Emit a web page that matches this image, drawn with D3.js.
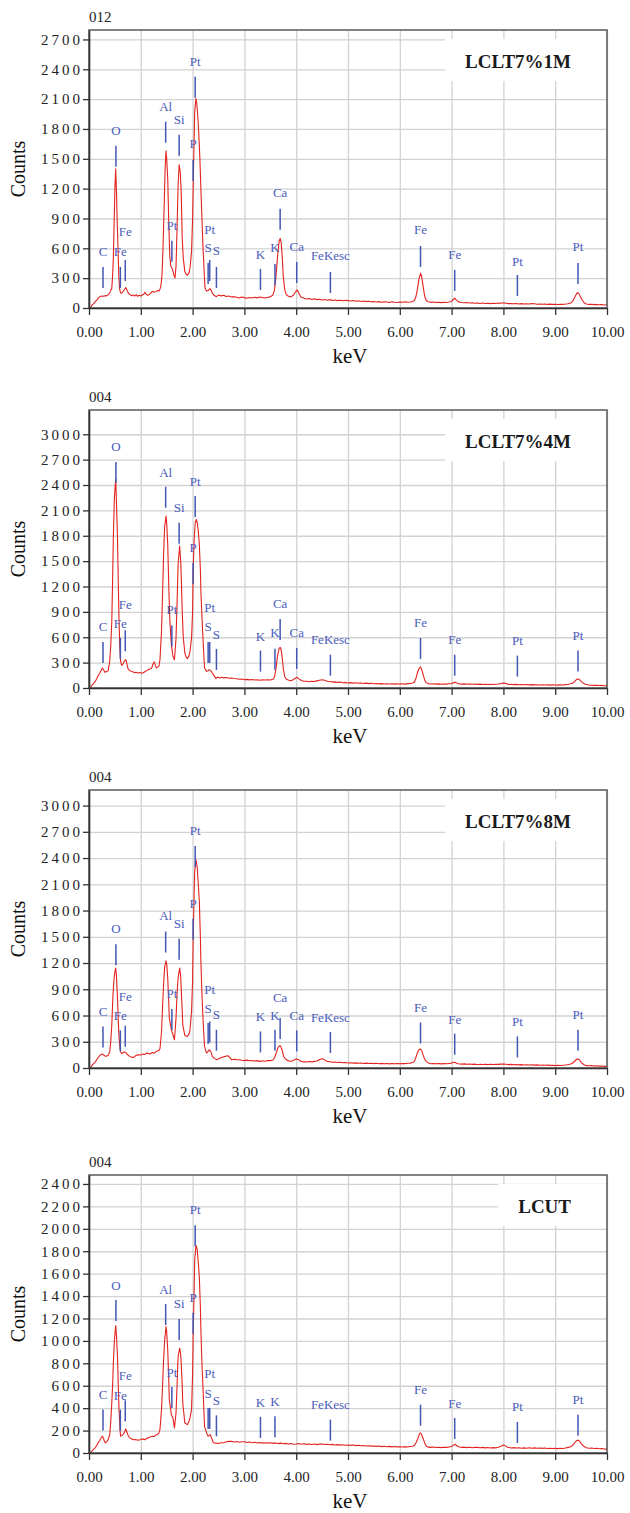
<!DOCTYPE html>
<html>
<head>
<meta charset="utf-8">
<script src="https://cdn.jsdelivr.net/npm/d3@7/dist/d3.min.js"></script>
<style>
  body { margin: 0; background: #fff; }
  svg text { font-family: "Liberation Serif", "Times New Roman", serif; }
</style>
</head>
<body>
<div id="vis"></div>
<script>
const FRAME_WIDTH = 630;
const FRAME_HEIGHT = 1513;
const MARGINS = {left: 89, right: 23};
const PLOT_TOPS = [30, 410, 790, 1175];
const PLOT_HEIGHT = 278;
const VIS_WIDTH = FRAME_WIDTH - MARGINS.left - MARGINS.right;

// panel info
const SAMPLE_IDS = ['012', '004', '004', '004'];
const SAMPLE_NAMES = ['LCLT7%1M', 'LCLT7%4M', 'LCLT7%8M', 'LCUT'];
const KEV_TICKS = [0, 1, 2, 3, 4, 5, 6, 7, 8, 9, 10];
const COUNT_MAX = [2795, 3287, 3178, 2480];
const COUNT_TICKS = [
  [0, 300, 600, 900, 1200, 1500, 1800, 2100, 2400, 2700],
  [0, 300, 600, 900, 1200, 1500, 1800, 2100, 2400, 2700, 3000],
  [0, 300, 600, 900, 1200, 1500, 1800, 2100, 2400, 2700, 3000],
  [0, 200, 400, 600, 800, 1000, 1200, 1400, 1600, 1800, 2000, 2200, 2400]
];

// spectra, [keV, counts]
const SPECTRUM_1M = [[0,0],[0.03,5],[0.06,30],[0.09,45],[0.12,63],[0.15,80],[0.18,100],[0.21,114],[0.24,120],[0.27,118],[0.31,124],[0.34,122],[0.37,134],[0.40,150],[0.42,175],[0.44,198],[0.455,320],[0.47,503],[0.485,850],[0.50,1200],[0.515,1400],[0.53,1180],[0.545,850],[0.56,600],[0.575,330],[0.59,198],[0.61,150],[0.63,148],[0.655,165],[0.68,181],[0.70,198],[0.71,205],[0.73,185],[0.76,148],[0.79,135],[0.82,124],[0.85,130],[0.88,120],[0.91,134],[0.94,118],[0.97,128],[1.00,120],[1.03,130],[1.06,140],[1.08,158],[1.10,140],[1.13,128],[1.16,134],[1.19,150],[1.22,168],[1.25,160],[1.29,164],[1.32,175],[1.35,170],[1.37,188],[1.39,230],[1.41,340],[1.43,620],[1.45,1000],[1.47,1400],[1.487,1580],[1.50,1500],[1.52,1300],[1.54,850],[1.56,520],[1.58,420],[1.60,405],[1.62,370],[1.64,330],[1.66,300],[1.68,420],[1.70,800],[1.72,1240],[1.74,1440],[1.76,1380],[1.78,1170],[1.80,700],[1.82,500],[1.85,366],[1.88,335],[1.90,330],[1.93,350],[1.95,403],[1.98,570],[2.00,900],[2.02,1450],[2.04,1977],[2.065,2105],[2.08,2060],[2.10,1930],[2.12,1750],[2.14,1507],[2.16,1200],[2.18,906],[2.20,620],[2.22,400],[2.24,198],[2.27,170],[2.30,175],[2.335,195],[2.36,180],[2.38,148],[2.42,125],[2.46,114],[2.50,130],[2.55,122],[2.60,128],[2.65,115],[2.70,120],[2.75,110],[2.80,114],[2.85,108],[2.90,100],[2.95,110],[3.00,104],[3.05,98],[3.10,106],[3.15,100],[3.20,108],[3.25,102],[3.30,110],[3.35,104],[3.40,100],[3.45,108],[3.50,112],[3.55,130],[3.58,180],[3.61,320],[3.64,520],[3.67,670],[3.69,700],[3.71,660],[3.73,520],[3.75,320],[3.78,180],[3.81,135],[3.85,118],[3.90,112],[3.95,130],[3.99,165],[4.02,181],[4.05,150],[4.09,110],[4.15,98],[4.20,90],[4.25,96],[4.30,86],[4.35,92],[4.40,84],[4.45,88],[4.50,81],[4.55,86],[4.60,78],[4.65,84],[4.70,76],[4.75,80],[4.80,74],[4.85,78],[4.90,72],[4.95,78],[5.00,74],[5.05,70],[5.10,76],[5.15,68],[5.20,72],[5.25,66],[5.30,70],[5.35,64],[5.40,68],[5.45,62],[5.50,66],[5.55,60],[5.60,64],[5.65,58],[5.70,62],[5.75,60],[5.80,56],[5.85,62],[5.90,58],[5.95,56],[6.00,60],[6.05,57],[6.10,62],[6.15,58],[6.20,60],[6.25,66],[6.28,75],[6.31,110],[6.34,190],[6.37,290],[6.40,349],[6.42,320],[6.45,220],[6.48,120],[6.51,75],[6.55,62],[6.60,57],[6.65,60],[6.70,55],[6.75,58],[6.80,54],[6.85,58],[6.90,56],[6.95,60],[7.00,66],[7.03,85],[7.06,98],[7.09,82],[7.13,64],[7.18,56],[7.25,52],[7.30,55],[7.35,50],[7.40,52],[7.45,48],[7.50,50],[7.55,46],[7.60,50],[7.65,46],[7.70,48],[7.75,44],[7.80,48],[7.85,46],[7.90,50],[7.95,47],[8.00,52],[8.05,48],[8.10,44],[8.15,46],[8.20,42],[8.25,45],[8.30,41],[8.35,44],[8.40,40],[8.45,43],[8.50,40],[8.55,44],[8.60,42],[8.65,38],[8.70,41],[8.75,37],[8.80,40],[8.85,36],[8.90,39],[8.95,36],[9.00,38],[9.05,35],[9.10,38],[9.15,36],[9.20,40],[9.25,42],[9.30,50],[9.34,70],[9.38,110],[9.42,150],[9.45,152],[9.48,120],[9.52,80],[9.56,52],[9.60,40],[9.65,36],[9.70,38],[9.75,34],[9.80,36],[9.85,32],[9.90,35],[9.95,30],[10.0,32]];

const SPECTRUM_4M = [[0,0],[0.03,8],[0.06,35],[0.09,55],[0.12,78],[0.15,110],[0.18,150],[0.21,178],[0.24,215],[0.26,237],[0.28,215],[0.31,185],[0.34,195],[0.37,204],[0.40,316],[0.42,500],[0.44,789],[0.455,1250],[0.47,1776],[0.49,2250],[0.515,2470],[0.53,2200],[0.55,1776],[0.565,1250],[0.58,789],[0.595,480],[0.61,316],[0.63,270],[0.65,276],[0.68,316],[0.705,335],[0.72,320],[0.74,260],[0.76,217],[0.79,205],[0.82,197],[0.85,190],[0.88,182],[0.91,186],[0.95,178],[0.98,184],[1.01,176],[1.04,178],[1.07,190],[1.10,200],[1.14,217],[1.18,225],[1.21,237],[1.24,290],[1.26,308],[1.28,270],[1.30,237],[1.33,250],[1.35,257],[1.37,335],[1.40,671],[1.42,1100],[1.44,1578],[1.46,1900],[1.487,2032],[1.50,1950],[1.52,1697],[1.54,1200],[1.56,800],[1.59,513],[1.62,375],[1.65,335],[1.68,592],[1.70,1000],[1.72,1460],[1.75,1677],[1.77,1500],[1.78,1342],[1.80,900],[1.82,600],[1.85,414],[1.88,360],[1.90,347],[1.93,380],[1.95,434],[1.98,592],[2.00,900],[2.01,1381],[2.03,1750],[2.05,1950],[2.07,1993],[2.09,1954],[2.11,1850],[2.13,1697],[2.15,1400],[2.16,1144],[2.18,850],[2.20,592],[2.22,350],[2.23,237],[2.27,197],[2.30,205],[2.32,217],[2.35,205],[2.38,178],[2.42,140],[2.45,110],[2.48,130],[2.52,118],[2.56,126],[2.60,120],[2.65,124],[2.70,116],[2.75,118],[2.80,112],[2.85,110],[2.90,104],[2.95,106],[3.00,98],[3.05,102],[3.10,96],[3.15,100],[3.20,94],[3.25,98],[3.30,92],[3.35,96],[3.40,94],[3.45,98],[3.50,95],[3.55,104],[3.58,130],[3.61,230],[3.64,380],[3.67,465],[3.69,481],[3.71,450],[3.73,360],[3.75,230],[3.78,130],[3.82,100],[3.86,92],[3.90,86],[3.95,100],[3.99,118],[4.02,126],[4.06,105],[4.10,88],[4.15,80],[4.20,79],[4.25,74],[4.30,80],[4.35,76],[4.40,84],[4.45,92],[4.50,98],[4.55,92],[4.60,80],[4.65,76],[4.70,70],[4.75,72],[4.80,66],[4.85,70],[4.90,62],[4.95,66],[5.00,59],[5.05,64],[5.10,58],[5.15,62],[5.20,56],[5.25,60],[5.30,54],[5.35,58],[5.40,52],[5.45,56],[5.50,50],[5.55,54],[5.60,49],[5.65,52],[5.70,48],[5.75,51],[5.80,47],[5.85,50],[5.90,46],[5.95,49],[6.00,47],[6.05,50],[6.10,46],[6.15,52],[6.20,54],[6.25,60],[6.28,70],[6.31,110],[6.34,178],[6.37,230],[6.40,249],[6.42,225],[6.45,160],[6.48,95],[6.51,62],[6.55,52],[6.60,48],[6.65,50],[6.70,46],[6.75,49],[6.80,45],[6.85,48],[6.90,46],[6.95,50],[7.00,52],[7.04,64],[7.07,67],[7.10,58],[7.15,48],[7.20,46],[7.25,49],[7.30,45],[7.35,48],[7.40,44],[7.45,47],[7.50,43],[7.55,46],[7.60,42],[7.65,45],[7.70,41],[7.75,44],[7.80,42],[7.85,45],[7.90,48],[7.95,52],[8.00,59],[8.04,55],[8.08,46],[8.12,42],[8.16,44],[8.20,40],[8.25,43],[8.30,39],[8.35,42],[8.40,38],[8.45,41],[8.50,37],[8.55,40],[8.60,37],[8.65,39],[8.70,35],[8.75,38],[8.80,35],[8.85,37],[8.90,34],[8.95,37],[9.00,36],[9.05,34],[9.10,37],[9.15,35],[9.20,40],[9.25,44],[9.30,50],[9.35,62],[9.38,82],[9.42,106],[9.46,104],[9.50,79],[9.54,58],[9.58,45],[9.62,38],[9.66,34],[9.70,33],[9.75,31],[9.80,33],[9.85,29],[9.90,31],[9.95,27],[10.0,28]];

const SPECTRUM_8M = [[0,0],[0.03,6],[0.06,30],[0.09,50],[0.12,68],[0.15,95],[0.18,120],[0.21,144],[0.24,155],[0.26,160],[0.29,145],[0.32,133],[0.35,140],[0.37,144],[0.40,183],[0.42,300],[0.44,494],[0.46,800],[0.48,1000],[0.50,1100],[0.515,1142],[0.53,1050],[0.55,799],[0.565,550],[0.58,342],[0.60,220],[0.61,183],[0.63,165],[0.65,171],[0.68,183],[0.71,178],[0.73,160],[0.76,144],[0.80,130],[0.83,122],[0.86,122],[0.90,140],[0.95,152],[1.00,148],[1.04,160],[1.08,155],[1.11,170],[1.14,167],[1.18,160],[1.22,178],[1.26,170],[1.29,185],[1.32,194],[1.35,200],[1.37,220],[1.40,411],[1.42,700],[1.44,951],[1.46,1150],[1.487,1225],[1.50,1190],[1.52,1027],[1.54,750],[1.55,571],[1.59,437],[1.62,380],[1.65,323],[1.68,571],[1.70,850],[1.72,1027],[1.75,1142],[1.77,1050],[1.78,913],[1.80,650],[1.81,494],[1.85,372],[1.90,361],[1.93,390],[1.95,437],[1.98,646],[2.00,1000],[2.01,1446],[2.03,2000],[2.04,2245],[2.065,2379],[2.08,2330],[2.09,2284],[2.11,2100],[2.13,1903],[2.15,1500],[2.16,1218],[2.18,850],[2.20,571],[2.22,350],[2.23,247],[2.27,171],[2.30,190],[2.32,209],[2.35,190],[2.38,133],[2.42,110],[2.47,95],[2.52,110],[2.56,120],[2.60,128],[2.63,133],[2.66,138],[2.68,141],[2.71,125],[2.75,95],[2.80,100],[2.85,96],[2.90,95],[2.95,88],[3.00,84],[3.05,90],[3.10,82],[3.15,86],[3.20,80],[3.25,84],[3.30,76],[3.35,82],[3.40,78],[3.45,86],[3.50,84],[3.55,92],[3.58,114],[3.62,180],[3.65,235],[3.68,255],[3.70,250],[3.73,200],[3.76,130],[3.78,114],[3.82,90],[3.86,80],[3.90,76],[3.95,88],[4.00,103],[4.04,98],[4.08,80],[4.12,72],[4.16,70],[4.20,68],[4.25,74],[4.30,70],[4.35,76],[4.40,80],[4.45,96],[4.50,106],[4.53,100],[4.57,84],[4.60,76],[4.65,72],[4.70,66],[4.75,68],[4.80,62],[4.85,66],[4.90,60],[4.95,63],[5.00,57],[5.05,60],[5.10,56],[5.15,59],[5.20,54],[5.25,57],[5.30,52],[5.35,56],[5.40,51],[5.45,55],[5.50,50],[5.55,54],[5.60,49],[5.65,53],[5.70,48],[5.75,52],[5.80,47],[5.85,51],[5.90,48],[5.95,50],[6.00,49],[6.05,52],[6.10,50],[6.15,54],[6.20,56],[6.25,62],[6.28,76],[6.31,120],[6.34,175],[6.37,210],[6.40,217],[6.42,205],[6.45,150],[6.48,100],[6.51,76],[6.55,58],[6.60,49],[6.65,52],[6.70,48],[6.75,51],[6.80,47],[6.85,50],[6.90,48],[6.95,52],[7.00,56],[7.04,65],[7.07,62],[7.10,52],[7.15,46],[7.20,44],[7.25,47],[7.30,42],[7.35,45],[7.40,41],[7.45,44],[7.50,38],[7.55,42],[7.60,40],[7.65,43],[7.70,39],[7.75,42],[7.80,40],[7.85,43],[7.90,41],[7.95,44],[8.00,46],[8.05,43],[8.10,39],[8.15,41],[8.20,37],[8.25,40],[8.30,36],[8.35,39],[8.40,35],[8.45,38],[8.50,34],[8.55,37],[8.60,33],[8.65,36],[8.70,32],[8.75,34],[8.80,31],[8.85,33],[8.90,30],[8.95,32],[9.00,27],[9.05,30],[9.10,28],[9.15,32],[9.20,35],[9.25,40],[9.30,46],[9.34,57],[9.38,80],[9.42,103],[9.46,100],[9.50,65],[9.55,40],[9.60,27],[9.65,25],[9.70,27],[9.75,23],[9.80,25],[9.85,21],[9.90,23],[9.95,19],[10.0,19]];

const SPECTRUM_UT = [[0,0],[0.03,5],[0.06,20],[0.09,35],[0.12,46],[0.15,70],[0.18,95],[0.21,114],[0.24,140],[0.26,150],[0.28,130],[0.30,100],[0.32,91],[0.35,105],[0.37,120],[0.40,164],[0.42,280],[0.44,446],[0.46,650],[0.47,802],[0.49,1000],[0.515,1136],[0.53,1050],[0.55,860],[0.565,600],[0.58,387],[0.60,200],[0.61,150],[0.63,155],[0.65,164],[0.68,179],[0.71,215],[0.73,190],[0.76,150],[0.79,135],[0.82,126],[0.86,118],[0.90,120],[0.95,114],[1.00,120],[1.04,126],[1.08,118],[1.11,130],[1.14,135],[1.18,142],[1.22,150],[1.26,148],[1.29,160],[1.32,164],[1.35,180],[1.37,209],[1.40,387],[1.42,600],[1.44,831],[1.46,1000],[1.487,1127],[1.50,1080],[1.52,920],[1.54,650],[1.55,476],[1.59,342],[1.62,313],[1.65,224],[1.68,357],[1.70,600],[1.72,860],[1.75,935],[1.77,880],[1.78,802],[1.80,600],[1.81,446],[1.85,268],[1.90,253],[1.93,280],[1.95,313],[1.98,387],[2.00,700],[2.01,1038],[2.03,1450],[2.04,1720],[2.065,1853],[2.08,1830],[2.09,1809],[2.11,1700],[2.13,1572],[2.15,1300],[2.16,1098],[2.18,800],[2.20,594],[2.22,350],[2.23,238],[2.27,179],[2.30,150],[2.34,164],[2.37,130],[2.40,91],[2.45,88],[2.50,85],[2.55,92],[2.60,91],[2.65,100],[2.70,104],[2.75,105],[2.80,98],[2.85,102],[2.90,96],[2.95,100],[3.00,101],[3.05,94],[3.10,98],[3.15,92],[3.20,96],[3.25,90],[3.30,94],[3.35,88],[3.40,92],[3.45,88],[3.50,92],[3.55,86],[3.60,90],[3.65,84],[3.70,88],[3.75,82],[3.80,86],[3.85,80],[3.90,84],[3.95,78],[4.00,80],[4.05,84],[4.10,78],[4.15,82],[4.20,77],[4.25,81],[4.30,76],[4.35,80],[4.40,75],[4.45,79],[4.50,80],[4.55,76],[4.60,78],[4.65,74],[4.70,77],[4.75,72],[4.80,75],[4.85,70],[4.90,74],[4.95,69],[5.00,71],[5.05,68],[5.10,71],[5.15,66],[5.20,69],[5.25,64],[5.30,67],[5.35,62],[5.40,65],[5.45,61],[5.50,62],[5.55,59],[5.60,62],[5.65,57],[5.70,60],[5.75,56],[5.80,59],[5.85,55],[5.90,58],[5.95,55],[6.00,56],[6.05,54],[6.10,57],[6.15,54],[6.20,58],[6.25,60],[6.28,66],[6.31,90],[6.35,130],[6.38,170],[6.40,179],[6.42,165],[6.45,130],[6.48,90],[6.51,62],[6.55,52],[6.60,50],[6.65,53],[6.70,49],[6.75,52],[6.80,48],[6.85,51],[6.90,50],[6.95,54],[7.00,58],[7.04,72],[7.07,77],[7.10,65],[7.15,54],[7.20,50],[7.25,52],[7.30,48],[7.35,51],[7.40,47],[7.45,50],[7.50,50],[7.55,47],[7.60,50],[7.65,46],[7.70,49],[7.75,45],[7.80,48],[7.85,46],[7.90,52],[7.95,60],[8.00,71],[8.03,66],[8.08,52],[8.12,48],[8.16,45],[8.20,48],[8.25,44],[8.30,47],[8.35,43],[8.40,46],[8.45,42],[8.50,47],[8.55,43],[8.60,46],[8.65,42],[8.70,45],[8.75,41],[8.80,44],[8.85,40],[8.90,43],[8.95,40],[9.00,41],[9.05,39],[9.10,42],[9.15,40],[9.20,45],[9.25,50],[9.30,56],[9.35,75],[9.40,105],[9.43,115],[9.46,112],[9.50,86],[9.55,60],[9.60,47],[9.65,42],[9.70,44],[9.75,40],[9.80,42],[9.85,38],[9.90,40],[9.95,35],[10.0,35]];

// element markers: [label, keV, line top (counts), label centre (counts)]
const MARKERS_1M = [['C',0.27,413,564],['Fe',0.605,413,564],['Fe',0.70,483,765],['O',0.52,1631,1782],['Al',1.48,1873,2024],['Si',1.74,1742,1893],['P',2.01,1490,1651],['Pt',2.05,2326,2477],['Pt',1.60,675,826],['Pt',2.33,483,785],['S',2.30,453,604],['S',2.46,413,574],['K',3.31,393,534],['K',3.59,443,604],['Ca',3.69,997,1158],['Ca',4.01,463,614],['FeKesc',4.66,362,524],['Fe',6.40,624,785],['Fe',7.06,383,534],['Pt',8.27,332,473],['Pt',9.44,453,614]];
const MARKERS_4M = [['C',0.27,545,730],['Fe',0.605,592,761],['Fe',0.70,682,986],['O',0.52,2671,2860],['Al',1.48,2380,2553],['Si',1.74,1953,2131],['P',2.01,1480,1658],['Pt',2.05,2269,2446],['Pt',1.60,738,927],['Pt',2.33,545,947],['S',2.30,545,722],['S',2.46,462,631],['K',3.31,442,611],['K',3.59,465,651],['Ca',3.69,817,998],['Ca',4.01,474,651],['FeKesc',4.66,394,572],['Fe',6.40,592,777],['Fe',7.06,394,572],['Pt',8.27,383,564],['Pt',9.44,442,623]];
const MARKERS_8M = [['C',0.27,475,646],['Fe',0.605,430,597],['Fe',0.70,483,818],['O',0.52,1416,1591],['Al',1.48,1560,1743],['Si',1.74,1477,1648],['P',2.01,1705,1884],['Pt',2.05,2539,2713],['Pt',1.60,674,856],['Pt',2.33,532,894],['S',2.30,514,685],['S',2.46,437,609],['K',3.31,418,589],['K',3.59,437,597],['Ca',3.69,571,811],['Ca',4.01,430,597],['FeKesc',4.66,411,578],['Fe',6.40,521,692],['Fe',7.06,392,552],['Pt',8.27,361,532],['Pt',9.44,437,609]];
const MARKERS_UT = [['C',0.27,387,520],['Fe',0.605,387,514],['Fe',0.70,470,689],['O',0.52,1365,1498],['Al',1.48,1329,1460],['Si',1.74,1196,1332],['P',2.01,1252,1389],['Pt',2.05,2031,2171],['Pt',1.60,588,718],['Pt',2.33,402,707],['S',2.30,402,535],['S',2.46,336,470],['K',3.31,322,452],['K',3.59,327,461],['FeKesc',4.66,298,431],['Fe',6.40,431,571],['Fe',7.06,313,446],['Pt',8.27,277,416],['Pt',9.44,342,482]];

const SPECTRA = [SPECTRUM_1M, SPECTRUM_4M, SPECTRUM_8M, SPECTRUM_UT];
const MARKERS = [MARKERS_1M, MARKERS_4M, MARKERS_8M, MARKERS_UT];

const MARKER_LEN = 21;

const FRAME = d3.select('#vis')
  .append('svg')
    .attr('width', FRAME_WIDTH)
    .attr('height', FRAME_HEIGHT);

const X_SCALE = d3.scaleLinear()
  .domain([0, 10])
  .range([0, VIS_WIDTH]);

function drawPanel(i) {
  const top = PLOT_TOPS[i];
  const Y_SCALE = d3.scaleLinear()
    .domain([0, COUNT_MAX[i]])
    .range([PLOT_HEIGHT, 0]);

  const g = FRAME.append('g')
    .attr('transform', 'translate(' + MARGINS.left + ',' + top + ')');

  // gridlines
  g.append('g')
    .attr('transform', 'translate(0,' + PLOT_HEIGHT + ')')
    .call(d3.axisBottom(X_SCALE).tickValues(KEV_TICKS).tickSize(-PLOT_HEIGHT).tickFormat(''))
    .call(a => a.select('.domain').remove())
    .selectAll('line').attr('stroke', '#d2d2d2').attr('stroke-width', 1.3);
  g.append('g')
    .call(d3.axisLeft(Y_SCALE).tickValues(COUNT_TICKS[i]).tickSize(-VIS_WIDTH).tickFormat(''))
    .call(a => a.select('.domain').remove())
    .selectAll('line').attr('stroke', '#d2d2d2').attr('stroke-width', 1.3);

  // sample name box
  const box = g.append('rect').attr('fill', '#fff');
  const name = g.append('text')
    .attr('x', VIS_WIDTH - 36)
    .attr('y', 38)
    .attr('text-anchor', 'end')
    .attr('font-size', '19px')
    .attr('font-weight', 'bold')
    .attr('fill', '#1a1a1a')
    .text(SAMPLE_NAMES[i]);
  const bb = name.node().getBBox();
  box.attr('x', bb.x - 20)
    .attr('y', 9)
    .attr('width', VIS_WIDTH - 1 - (bb.x - 20))
    .attr('height', 42);

  // spectrum
  const line = d3.line()
    .x(d => X_SCALE(d[0]))
    .y(d => Y_SCALE(d[1]));
  g.append('path')
    .datum(SPECTRA[i])
    .attr('d', line)
    .attr('fill', 'none')
    .attr('stroke', '#e3231f')
    .attr('stroke-width', 1.1)
    .attr('stroke-linejoin', 'round');

  // element markers
  const mk = g.selectAll('.marker')
    .data(MARKERS[i])
    .enter()
    .append('g')
      .attr('class', 'marker');
  mk.append('line')
    .attr('x1', d => X_SCALE(d[1]))
    .attr('x2', d => X_SCALE(d[1]))
    .attr('y1', d => Y_SCALE(d[2]))
    .attr('y2', d => Y_SCALE(d[2]) + MARKER_LEN)
    .attr('stroke', '#4256b4')
    .attr('stroke-width', 1.5);
  mk.append('text')
    .attr('x', d => X_SCALE(d[1]))
    .attr('y', d => Y_SCALE(d[3]))
    .attr('dy', '0.35em')
    .attr('text-anchor', 'middle')
    .attr('font-size', '13px')
    .attr('fill', '#4a5cbc')
    .text(d => d[0]);

  // frame
  g.append('rect')
    .attr('width', VIS_WIDTH)
    .attr('height', PLOT_HEIGHT)
    .attr('fill', 'none')
    .attr('stroke', '#5a5a5a')
    .attr('stroke-width', 1.5);

  // axes
  const xAxis = g.append('g')
    .attr('transform', 'translate(0,' + PLOT_HEIGHT + ')')
    .call(d3.axisBottom(X_SCALE).tickValues(KEV_TICKS).tickSize(7).tickSizeOuter(0).tickPadding(11).tickFormat(d3.format('.2f')));
  xAxis.selectAll('text').attr('font-size', '15px').attr('fill', '#222');

  const yAxis = g.append('g')
    .call(d3.axisLeft(Y_SCALE).tickValues(COUNT_TICKS[i]).tickSize(6).tickSizeOuter(0).tickPadding(3).tickFormat(d3.format('d')));
  yAxis.selectAll('text')
    .attr('font-size', '15px')
    .attr('fill', '#222')
    .attr('letter-spacing', '3px')
    .attr('dx', '3px');

  [xAxis, yAxis].forEach(a => {
    a.select('.domain').attr('stroke', '#333').attr('stroke-width', 1.6);
    a.selectAll('.tick line').attr('stroke', '#333').attr('stroke-width', 1.3);
  });

  // titles
  g.append('text')
    .attr('x', 0)
    .attr('y', -8)
    .attr('font-size', '15px')
    .attr('fill', '#222')
    .text(SAMPLE_IDS[i]);

  g.append('text')
    .attr('transform', 'translate(' + (18 - MARGINS.left) + ',' + (PLOT_HEIGHT / 2) + ') rotate(-90)')
    .attr('text-anchor', 'middle')
    .attr('dy', '0.35em')
    .attr('font-size', '20px')
    .attr('fill', '#111')
    .text('Counts');

  g.append('text')
    .attr('x', VIS_WIDTH / 2 + 2)
    .attr('y', PLOT_HEIGHT + 55)
    .attr('text-anchor', 'middle')
    .attr('font-size', '21px')
    .attr('fill', '#111')
    .text('keV');
}

for (let i = 0; i < 4; i++) drawPanel(i);
</script>
</body>
</html>
